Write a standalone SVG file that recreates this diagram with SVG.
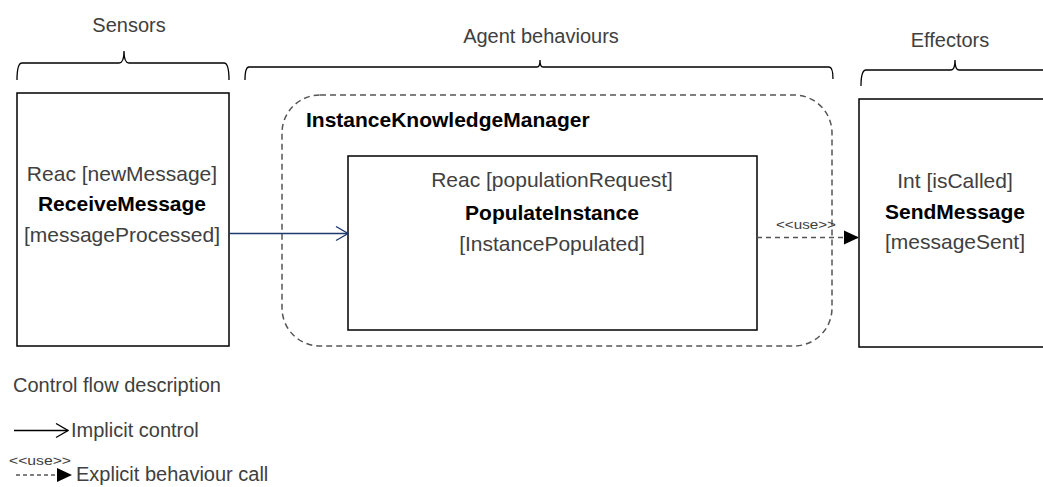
<svg xmlns="http://www.w3.org/2000/svg" width="1043" height="487" viewBox="0 0 1043 487">
<style>
text{font-family:"Liberation Sans",Arial,sans-serif;fill:#404040}
.reg{font-size:21px}
.bold{font-size:21px;font-weight:bold;fill:#000}
.hdr{font-size:20px}
.small{font-size:13px}
.leg{font-size:20px}
.brace{fill:none;stroke:#000;stroke-width:1.3}
.box{fill:#fff;stroke:#000;stroke-width:1.5}
.dash{fill:none;stroke:#555;stroke-width:1.5;stroke-dasharray:6 4}
</style>
<defs>
<marker id="open" markerWidth="14" markerHeight="16" refX="13" refY="8" orient="auto" markerUnits="userSpaceOnUse">
<path d="M1,1 L13,8 L1,15" fill="none" stroke="#1F3A6E" stroke-width="1.3"/>
</marker>
<marker id="openBlack" markerWidth="14" markerHeight="16" refX="13" refY="8" orient="auto" markerUnits="userSpaceOnUse">
<path d="M1,1 L13,8 L1,15" fill="none" stroke="#000" stroke-width="1.3"/>
</marker>
<marker id="filled" markerWidth="16" markerHeight="16" refX="15" refY="8" orient="auto" markerUnits="userSpaceOnUse">
<path d="M0,1 L15,8 L0,15 Z" fill="#000"/>
</marker>
</defs>

<g id="headers">
<text class="hdr" x="129" y="32" text-anchor="middle">Sensors</text>
<path class="brace" d="M17,80 Q17,63 22,63 L119,63 Q124,63 124,51 Q124,63 129,63 L224,63 Q229,63 229,80"/>
<text class="hdr" x="541" y="43" text-anchor="middle">Agent behaviours</text>
<path class="brace" d="M245,80 Q245,67 249,67 L537,67 Q540,67 540,60 Q540,67 543,67 L829,67 Q833,67 833,79"/>
<text class="hdr" x="950" y="47" text-anchor="middle">Effectors</text>
<path class="brace" d="M861,86 Q861,70 866,70 L951,70 Q955,70 955,60 Q955,70 959,70 L1050,70"/>
</g>

<g id="ReceiveMessage">
<rect class="box" x="17" y="93" width="212" height="253"/>
<text class="reg" x="122" y="181" text-anchor="middle">Reac [newMessage]</text>
<text class="bold" x="122" y="211" text-anchor="middle">ReceiveMessage</text>
<text class="reg" x="122" y="242" text-anchor="middle">[messageProcessed]</text>
</g>

<g id="InstanceKnowledgeManager">
<rect class="dash" x="282" y="95" width="550" height="251" rx="38" ry="38"/>
<text class="bold" x="306" y="127">InstanceKnowledgeManager</text>
</g>

<g id="PopulateInstance">
<rect class="box" x="348" y="156" width="409" height="174"/>
<text class="reg" x="552" y="187" text-anchor="middle">Reac [populationRequest]</text>
<text class="bold" x="552" y="220" text-anchor="middle">PopulateInstance</text>
<text class="reg" x="552" y="251" text-anchor="middle">[InstancePopulated]</text>
</g>

<g id="SendMessage">
<rect class="box" x="859" y="99" width="200" height="248"/>
<text class="reg" x="955" y="188" text-anchor="middle">Int [isCalled]</text>
<text class="bold" x="955" y="219" text-anchor="middle">SendMessage</text>
<text class="reg" x="955" y="249" text-anchor="middle">[messageSent]</text>
</g>

<g id="connectors">
<line x1="229" y1="233.5" x2="348" y2="233.5" stroke="#1F3A6E" stroke-width="1.3" marker-end="url(#open)"/>
<line x1="757" y1="237.5" x2="859" y2="237.5" stroke="#555" stroke-width="1.5" stroke-dasharray="5 4" marker-end="url(#filled)"/>
<text class="small" x="776" y="229" textLength="60" lengthAdjust="spacingAndGlyphs">&lt;&lt;use&gt;&gt;</text>
</g>

<g id="legend">
<text class="leg" x="13" y="392">Control flow description</text>
<line x1="14" y1="430.5" x2="68" y2="430.5" stroke="#000" stroke-width="1.3" marker-end="url(#openBlack)"/>
<text class="leg" x="71" y="437">Implicit control</text>
<text class="small" x="9" y="465" textLength="62" lengthAdjust="spacingAndGlyphs">&lt;&lt;use&gt;&gt;</text>
<line x1="16" y1="475" x2="72" y2="475" stroke="#555" stroke-width="1.5" stroke-dasharray="4 3" marker-end="url(#filled)"/>
<text class="leg" x="76" y="481">Explicit behaviour call</text>
</g>
</svg>
